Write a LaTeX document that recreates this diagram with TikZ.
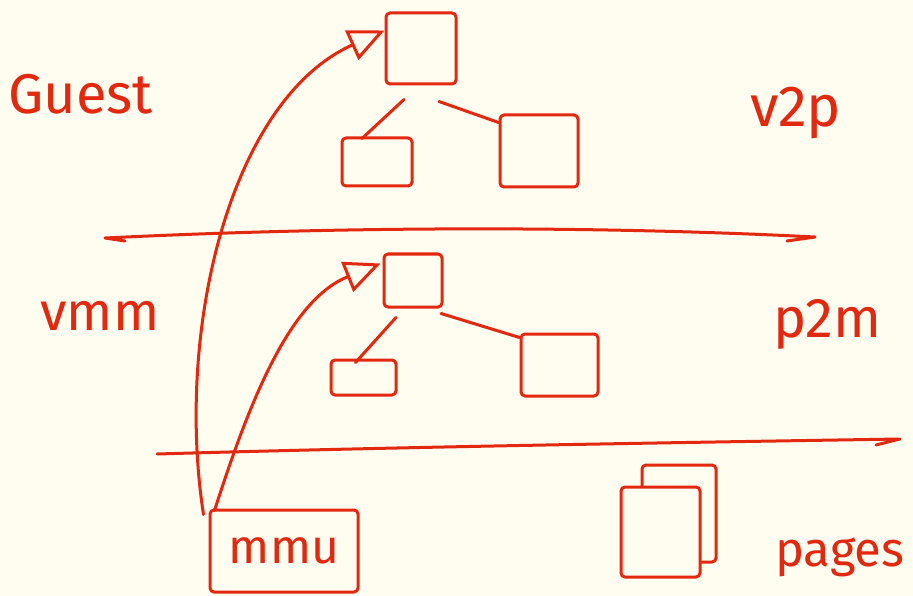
\documentclass[tikz,border=0pt]{standalone}
\usepackage{fontspec}
\setmainfont{Fira Sans}
\usetikzlibrary{arrows.meta}
\definecolor{ink}{HTML}{E2290F}
\definecolor{paper}{HTML}{FFFCF0}
\tikzset{
  pen/.style={draw=ink, line width=3pt, line cap=round, line join=round},
  tbox/.style={pen, rectangle, rounded corners=4pt, inner sep=0pt},
  sheet/.style={tbox, fill=paper},
  label/.style={text=ink, inner sep=0pt, anchor=base west},
  link/.style={pen},
  ptr/.style={pen, -{Triangle[open, length=36pt, width=32pt, line width=3pt]}},
}
\begin{document}
\begin{tikzpicture}[x=1pt, y=-1pt]
  \fill[paper] (0,0) rectangle (913,596);
  \useasboundingbox (0,0) rectangle (913,596);

  % layer separators
  \draw[pen] (125,241) -- (105,238) .. controls (350,226) and (600,226) .. (815,237) -- (787,241);
  \draw[pen] (157,454) .. controls (400,447) and (650,443) .. (900,439) -- (876,445);

  % guest page table (v2p)
  \node[tbox, minimum width=70pt, minimum height=71pt] (g0) at (421,48.5) {};
  \node[tbox, minimum width=70pt, minimum height=48pt] (g1) at (377,162) {};
  \node[tbox, minimum width=78pt, minimum height=72pt] (g2) at (539,151) {};
  \draw[link] ([shift={(-17,14)}]g0.south) -- ([shift={(-15,2)}]g1.north);
  \draw[link] ([shift={(18,16)}]g0.south) -- ([shift={(0,9)}]g2.north west);

  % vmm page table (p2m)
  \node[tbox, minimum width=58pt, minimum height=53pt] (v0) at (413,280.5) {};
  \node[tbox, minimum width=65pt, minimum height=35pt] (v1) at (363.5,377.5) {};
  \node[tbox, minimum width=77pt, minimum height=62pt] (v2) at (559.5,365) {};
  \draw[link] ([shift={(-17,9)}]v0.south) -- ([shift={(-8,4)}]v1.north);
  \draw[link] ([shift={(28,5)}]v0.south) -- ([shift={(0,5)}]v2.north west);

  % mmu and the physical pages
  \node[tbox, minimum width=148pt, minimum height=82pt, font=\fontsize{48}{48}\selectfont, text=ink] (mmu) at (284,551) {mmu};
  \node[tbox, minimum width=74pt, minimum height=97pt] (pb) at (679,513.5) {};
  \node[sheet, minimum width=79pt, minimum height=90pt] (pf) at (660.5,532) {};

  % the mmu walks both tables
  \draw[ptr] ([shift={(-5,6)}]mmu.north west) .. controls (175,330) and (230,100) .. ([shift={(0,-18)}]g0.west);
  \draw[ptr] ([shift={(6,2)}]mmu.north west) .. controls (250,400) and (290,300) .. ([shift={(-2,-17)}]v0.west);

  % labels
  \node[label, font=\fontsize{56}{56}\selectfont] (guest) at (8,114) {Guest};
  \node[label, font=\fontsize{54}{54}\selectfont] (vmm) at (40,330) {vmm};
  \node[label, font=\fontsize{58}{58}\selectfont] (v2p) at (750,127) {v2p};
  \node[label, font=\fontsize{56}{56}\selectfont] (p2m) at (773,337) {p2m};
  \node[label, font=\fontsize{49}{49}\selectfont] (pages) at (775,566) {pages};
\end{tikzpicture}
\end{document}
